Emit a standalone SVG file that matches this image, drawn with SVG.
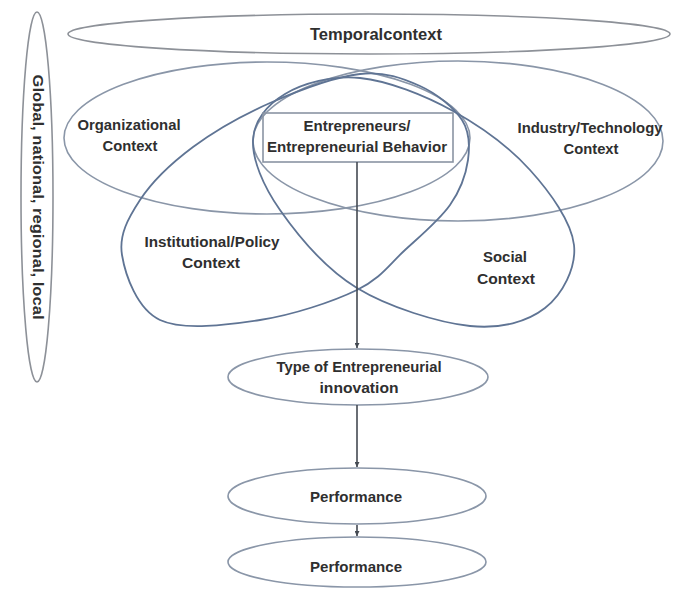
<svg xmlns="http://www.w3.org/2000/svg" width="673" height="590" viewBox="0 0 673 590">
<style>
  .bg{fill:#ffffff}
  .outer{fill:none;stroke:#8d9198;stroke-width:1.6}
  .ctx{fill:none;stroke:#8a96a8;stroke-width:1.6}
  .lobe{fill:none;stroke:#5f7494;stroke-width:1.8}
  .box{fill:none;stroke:#8a94a3;stroke-width:1.6}
  .out{fill:#ffffff;stroke:#8a96a8;stroke-width:1.6}
  .t{font-family:"Liberation Sans",Arial,sans-serif;font-weight:bold;font-size:14px;fill:#2f2f2f;text-anchor:middle}
  .big{font-size:16px}
  .conn{fill:none;stroke:#444a52;stroke-width:1.6}
</style>
<defs>
  <marker id="arr" viewBox="0 0 10 10" refX="10" refY="5" markerWidth="5" markerHeight="5" orient="auto" markerUnits="userSpaceOnUse">
    <path d="M0,0 L10,5 L0,10 Z" fill="#444a52"/>
  </marker>
</defs>
<rect class="bg" x="0" y="0" width="673" height="590"/>

<g id="global">
  <ellipse class="outer" cx="37" cy="197" rx="16" ry="185"/>
  <text class="t" transform="translate(33,197) rotate(90)" textLength="245" lengthAdjust="spacingAndGlyphs">Global, national, regional, local</text>
</g>

<g id="temporal">
  <ellipse class="outer" cx="369" cy="34" rx="301" ry="20"/>
  <text class="t big" x="376" y="40" textLength="132" lengthAdjust="spacingAndGlyphs">Temporalcontext</text>
</g>

<g id="organizational">
  <ellipse class="ctx" cx="267" cy="138" rx="203" ry="76"/>
  <text class="t" x="129" y="130" textLength="103" lengthAdjust="spacingAndGlyphs">Organizational</text>
  <text class="t" x="130" y="151" textLength="55" lengthAdjust="spacingAndGlyphs">Context</text>
</g>

<g id="industry">
  <ellipse class="ctx" cx="458" cy="141" rx="205" ry="80"/>
  <text class="t" x="590" y="133" textLength="145" lengthAdjust="spacingAndGlyphs">Industry/Technology</text>
  <text class="t" x="591" y="154" textLength="55" lengthAdjust="spacingAndGlyphs">Context</text>
</g>

<g id="institutional">
  <path class="lobe" d="M122,255 C118.7,235 128.2,218 140,200 C151.8,182 171.3,163.2 193,147 C214.7,130.8 242.2,115.2 270,103 C297.8,90.8 335,76.8 360,74 C385,71.2 403,78.3 420,86 C437,93.7 454,107.7 462,120 C470,132.3 470,145.8 468,160 C466,174.2 460.5,190 450,205 C439.5,220 420.5,235.8 405,250 C389.5,264.2 381.2,278.3 357,290 C332.8,301.7 292.8,315 260,320 C227.2,325 183,330.8 160,320 C137,309.2 125.3,275 122,255 Z"/>
  <text class="t" x="212" y="247" textLength="135" lengthAdjust="spacingAndGlyphs">Institutional/Policy</text>
  <text class="t" x="211" y="268" textLength="58" lengthAdjust="spacingAndGlyphs">Context</text>
</g>

<g id="social">
  <path class="lobe" d="M253,140 C253.8,120.7 267.2,104.7 285,94 C302.8,83.3 332,75.2 360,78 C388,80.8 424.7,95.3 453,111 C481.3,126.7 509.8,147.7 530,170 C550.2,192.3 571.5,222 574,245 C576.5,268 562.3,294.5 545,308 C527.7,321.5 501.3,329.3 470,326 C438.7,322.7 388.7,307.3 357,288 C325.3,268.7 297.3,234.7 280,210 C262.7,185.3 252.2,159.3 253,140 Z"/>
  <text class="t" x="505" y="262" textLength="44" lengthAdjust="spacingAndGlyphs">Social</text>
  <text class="t" x="506" y="284" textLength="58" lengthAdjust="spacingAndGlyphs">Context</text>
</g>

<g id="entrepreneurs">
  <rect class="box" x="263" y="113" width="190" height="49" fill="#ffffff" fill-opacity="0"/>
  <text class="t" x="357" y="131" textLength="107" lengthAdjust="spacingAndGlyphs">Entrepreneurs/</text>
  <text class="t" x="357" y="152" textLength="180" lengthAdjust="spacingAndGlyphs">Entrepreneurial Behavior</text>
</g>

<g id="type">
  <ellipse class="out" cx="358" cy="377" rx="130" ry="28"/>
  <text class="t" x="359" y="372" textLength="165" lengthAdjust="spacingAndGlyphs">Type of Entrepreneurial</text>
  <text class="t" x="359" y="393" textLength="79" lengthAdjust="spacingAndGlyphs">innovation</text>
</g>

<g id="performance1">
  <ellipse class="out" cx="357" cy="496" rx="129" ry="28"/>
  <text class="t" x="356" y="502" textLength="92" lengthAdjust="spacingAndGlyphs">Performance</text>
</g>

<g id="performance2">
  <ellipse class="out" cx="357" cy="562" rx="129" ry="25"/>
  <text class="t" x="356" y="572" textLength="92" lengthAdjust="spacingAndGlyphs">Performance</text>
</g>

<g id="connectors">
  <line class="conn" x1="357" y1="162" x2="357" y2="348" marker-end="url(#arr)"/>
  <line class="conn" x1="357" y1="405" x2="357" y2="467" marker-end="url(#arr)"/>
  <line class="conn" x1="357" y1="525" x2="357" y2="536" marker-end="url(#arr)"/>
</g>
</svg>
